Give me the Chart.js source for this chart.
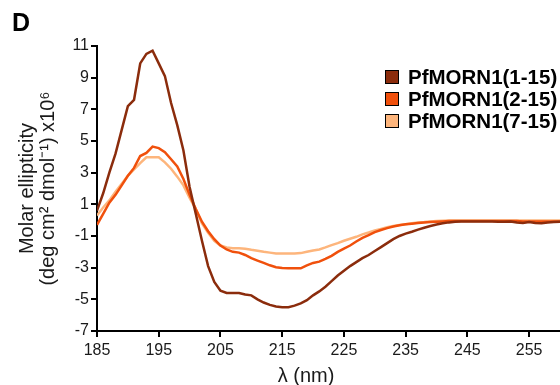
<!DOCTYPE html>
<html>
<head>
<meta charset="utf-8">
<script src="https://cdn.jsdelivr.net/npm/chart.js@4"></script>
<style>
  html, body { margin: 0; padding: 0; background: #fff; }
  #wrap { width: 560px; height: 385px; position: relative; }
</style>
</head>
<body>
<div id="wrap"><canvas id="cd"></canvas></div>
<script>
// CD spectra, wavelength in nm
const wavelengths = [
  185, 186, 187, 188, 189, 190, 191, 192, 193, 194,
  195, 196, 197, 198, 199, 200, 201, 202, 203, 204,
  205, 206, 207, 208, 209, 210, 211, 212, 213, 214,
  215, 216, 217, 218, 219, 220, 221, 222, 223, 224,
  225, 226, 227, 228, 229, 230, 231, 232, 233, 234,
  235, 236, 237, 238, 239, 240, 241, 242, 243, 244,
  245, 246, 247, 248, 249, 250, 251, 252, 253, 254,
  255, 256, 257, 258, 259, 260
];

const morn1_15 = [
  0.6, 1.7, 3.0, 4.2, 5.7, 7.2, 7.6, 9.9, 10.5, 10.7,
  9.9, 9.1, 7.4, 6.0, 4.4, 2.1, 0.4, -1.3, -2.9, -3.9,
  -4.45, -4.6, -4.6, -4.6, -4.7, -4.75, -5.0, -5.2, -5.35, -5.45,
  -5.5, -5.5, -5.4, -5.25, -5.05, -4.75, -4.5, -4.2, -3.85, -3.5,
  -3.2, -2.9, -2.65, -2.4, -2.2, -1.95, -1.7, -1.45, -1.2, -1.0,
  -0.85, -0.73, -0.6, -0.48, -0.37, -0.27, -0.2, -0.14, -0.1, -0.08,
  -0.08, -0.08, -0.08, -0.08, -0.08, -0.1, -0.1, -0.08, -0.15, -0.18,
  -0.12, -0.18, -0.2, -0.15, -0.12, -0.1
];

const morn2_15 = [
  -0.3, 0.4, 1.1, 1.6, 2.2, 2.8, 3.3, 4.05, 4.25, 4.65,
  4.55, 4.3, 3.85, 3.4, 2.6, 1.6, 0.7, -0.1, -0.7, -1.2,
  -1.6, -1.85, -2.0, -2.05, -2.2, -2.4, -2.55, -2.7, -2.85, -2.97,
  -3.02, -3.04, -3.04, -3.04, -2.85, -2.7, -2.62, -2.45, -2.25, -2.0,
  -1.8, -1.6, -1.35, -1.12, -0.95, -0.75, -0.62, -0.5, -0.4, -0.32,
  -0.26, -0.22, -0.18, -0.14, -0.12, -0.1, -0.08, -0.06, -0.05, -0.05,
  -0.05, -0.05, -0.05, -0.05, -0.05, -0.06, -0.06, -0.05, -0.06, -0.08,
  -0.08, -0.08, -0.08, -0.08, -0.08, -0.08
];

const morn7_15 = [
  0.3, 0.8, 1.25, 1.8, 2.3, 2.8, 3.2, 3.6, 3.97, 3.97,
  3.97, 3.65, 3.25, 2.75, 2.2, 1.4, 0.7, -0.2, -0.8, -1.3,
  -1.6, -1.72, -1.78, -1.78, -1.8, -1.87, -1.93, -2.0, -2.05, -2.1,
  -2.1, -2.1, -2.1, -2.08, -2.0, -1.92, -1.85, -1.72, -1.58, -1.45,
  -1.3, -1.17, -1.05, -0.9, -0.78, -0.65, -0.55, -0.45, -0.37, -0.3,
  -0.26, -0.2, -0.15, -0.12, -0.08, -0.05, -0.03, -0.02, -0.02, -0.02,
  -0.02, -0.02, -0.02, -0.02, -0.02, -0.02, -0.02, -0.02, -0.02, -0.02,
  -0.02, -0.02, -0.02, -0.02, -0.02, -0.02
];

const seriesNames = ['PfMORN1(1-15)', 'PfMORN1(2-15)', 'PfMORN1(7-15)'];
const seriesColors = ['#8b2c0c', '#f0500c', '#fdb57c'];
const xTicks = [185, 195, 205, 215, 225, 235, 245, 255];
const yTicks = [-7, -5, -3, -1, 1, 3, 5, 7, 9, 11];

const FONT = 'Arial, "Liberation Sans", sans-serif';

const pts = (vals) => wavelengths.map((w, i) => ({ x: w, y: vals[i] }));

// panel letter, axis titles and the legend box
const extras = {
  id: 'extras',
  afterDraw(chart) {
    const ctx = chart.ctx;
    const area = chart.chartArea;
    ctx.save();
    ctx.fillStyle = '#000';

    ctx.font = 'bold 25px ' + FONT;
    ctx.textAlign = 'left';
    ctx.textBaseline = 'middle';
    ctx.fillText('D', 12, 24);

    // y title, two lines
    ctx.save();
    ctx.translate(27, (area.top + area.bottom) / 2);
    ctx.rotate(-Math.PI / 2);
    ctx.textAlign = 'center';
    ctx.font = '20px ' + FONT;
    ctx.fillStyle = '#1a1a1a';
    ctx.fillText('Molar ellipticity', 0, 0);
    ctx.fillText('(deg cm\u00b2 dmol\u207b\u00b9) x10\u2076', 0, 21);
    ctx.restore();

    ctx.font = '20px ' + FONT;
    ctx.fillStyle = '#1a1a1a';
    ctx.textAlign = 'center';
    ctx.fillText('\u03bb (nm)', 306, 376);

    // legend
    ctx.font = 'bold 20.5px ' + FONT;
    ctx.textAlign = 'left';
    chart.data.datasets.forEach((ds, i) => {
      const cy = 77 + i * 22;
      ctx.fillStyle = ds.borderColor;
      ctx.fillRect(385, cy - 7, 14, 14);
      ctx.strokeStyle = '#000';
      ctx.lineWidth = 1;
      ctx.strokeRect(385.5, cy - 6.5, 13, 13);
      ctx.fillStyle = '#000';
      ctx.fillText(ds.label, 408, cy + 1);
    });
    ctx.restore();
  }
};

new Chart(document.getElementById('cd'), {
  type: 'line',
  data: {
    datasets: seriesNames.map((name, i) => ({
      label: name,
      data: pts([morn1_15, morn2_15, morn7_15][i]),
      borderColor: seriesColors[i],
      backgroundColor: seriesColors[i],
      borderWidth: 2.5,
      pointRadius: 0,
      tension: 0
    }))
  },
  options: {
    responsive: true,
    maintainAspectRatio: false,
    animation: false,
    layout: { padding: { top: 46, right: 0, left: 0, bottom: 0 } },
    plugins: {
      legend: { display: false },
      tooltip: { enabled: false }
    },
    scales: {
      x: {
        type: 'linear',
        min: 185,
        max: 260,
        afterBuildTicks: (s) => { s.ticks = xTicks.map(v => ({ value: v })); },
        afterFit: (s) => { s.height = 54; },
        grid: { drawOnChartArea: false, drawTicks: true, tickLength: 6, color: '#000', lineWidth: 2 },
        border: { display: true, color: '#000', width: 2 },
        ticks: { color: '#1a1a1a', font: { family: FONT, size: 16 }, padding: 4, maxRotation: 0 }
      },
      y: {
        min: -7,
        max: 11,
        afterBuildTicks: (s) => { s.ticks = yTicks.map(v => ({ value: v })); },
        afterFit: (s) => { s.width = 97; },
        grid: { drawOnChartArea: false, drawTicks: true, tickLength: 6, color: '#000', lineWidth: 2 },
        border: { display: true, color: '#000', width: 2 },
        ticks: { color: '#1a1a1a', font: { family: FONT, size: 16 }, padding: 2 }
      }
    }
  },
  plugins: [extras]
});
</script>
</body>
</html>
